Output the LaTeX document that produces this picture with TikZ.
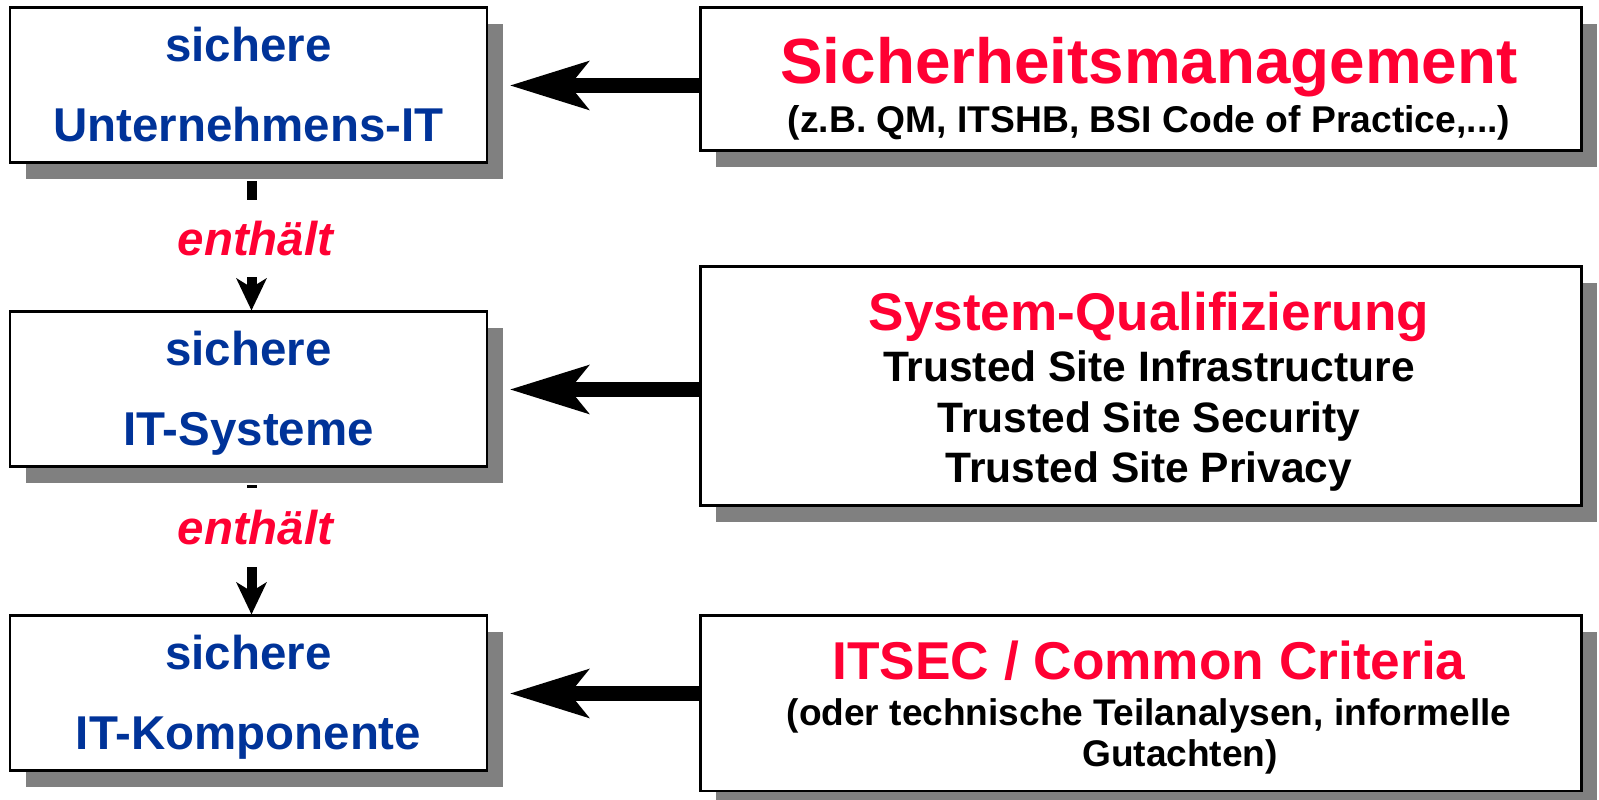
\documentclass[tikz,border=0pt]{standalone}
\usepackage{fontspec}
\setmainfont{Liberation Sans}
\usepackage{tikz}
\usetikzlibrary{arrows.meta,shadows}
\usepackage{xcolor}
\definecolor{itblue}{HTML}{003399}
\definecolor{itred}{HTML}{FF0033}
\definecolor{shadowgray}{HTML}{808080}
% Zeilenstrut: Hoehe, Tiefe
\newcommand{\lstrut}[2]{\rule[-#2]{0pt}{\dimexpr #1+#2\relax}}
% Zeile rechts, etwas nach rechts versetzt
\newcommand{\rstrut}[2]{\hspace*{0.34cm}\lstrut{#1}{#2}}

\begin{document}
\begin{tikzpicture}[
        itbox/.style={draw, line width=1.7pt, fill=white, inner sep=0pt, align=flush center, text width=9.54cm, minimum height=3.1cm, text=itblue, font=\fontsize{27}{27}\selectfont\bfseries, drop shadow={shadow xshift=0.32cm, shadow yshift=-0.32cm, fill=shadowgray, opacity=1}, execute at begin node=\offinterlineskip\frenchspacing},
        normbox/.style={itbox, text width=17.62cm, text=black},
        bigarrow/.style={-{Stealth[length=1.56cm, width=0.94cm, inset=0.36cm]}, line width=0.3cm, shorten >=0.42cm},
        contains/.style={-{Stealth[length=0.64cm, width=0.6cm, inset=0.18cm]}, line width=0.2cm, shorten <=0.34cm},
        relation/.style={fill=white, inner sep=0pt, xshift=0.08cm, text=itred, font=\fontsize{27}{27}\selectfont\bfseries\itshape}
    ]
    \useasboundingbox (0,0) rectangle (31.98,16);
    % linke Spalte
    \node[itbox] (unt) at (4.97,14.29) {\lstrut{1.08cm}{0.3cm}sichere\\ \lstrut{1.3cm}{0.42cm}Unternehmens-IT};
    \node[itbox] (sys) at (4.97,8.21) {\lstrut{1.08cm}{0.3cm}sichere\\ \lstrut{1.3cm}{0.42cm}IT-Systeme};
    \node[itbox] (komp) at (4.97,2.13) {\lstrut{1.08cm}{0.3cm}sichere\\ \lstrut{1.3cm}{0.42cm}IT-Komponente};
    % rechte Spalte
    \node[normbox, minimum height=2.86cm] (sm) at (22.81,14.41) {\rstrut{1.52cm}{0.3cm}{\color{itred}\fontsize{36.3}{36.3}\selectfont Sicherheitsmanagement}\\ \rstrut{0.68cm}{0.36cm}{\fontsize{21.2}{21.2}\selectfont (z.B. QM, ITSHB, BSI Code of Practice,...)}};
    \node[normbox, minimum height=4.78cm] (sq) at (22.81,8.27) {\rstrut{1.28cm}{0.3cm}{\color{itred}\fontsize{30.2}{30.2}\selectfont System-Qualifizierung}\\ \rstrut{0.72cm}{0.3cm}{\fontsize{24.2}{24.2}\selectfont Trusted Site Infrastructure}\\ \rstrut{0.72cm}{0.3cm}{\fontsize{24.2}{24.2}\selectfont Trusted Site Security}\\ \rstrut{0.7cm}{0.46cm}{\fontsize{24.2}{24.2}\selectfont Trusted Site Privacy}};
    \node[normbox, minimum height=3.5cm] (cc) at (22.81,1.93) {\rstrut{1.28cm}{0.3cm}{\color{itred}\fontsize{30.3}{30.3}\selectfont ITSEC / Common Criteria}\\ \rstrut{0.62cm}{0.25cm}{\fontsize{21.1}{21.1}\selectfont (oder technische Teilanalysen, informelle}\\ \hspace*{1.24cm}\rstrut{0.57cm}{0.48cm}{\fontsize{21.1}{21.1}\selectfont Gutachten)}};
    % Pfeile
    \draw[bigarrow] (sm.west |- unt.east) -- (unt.east);
    \draw[bigarrow] (sq.west |- sys.east) -- (sys.east);
    \draw[bigarrow] (cc.west |- komp.east) -- (komp.east);
    \draw[contains] ([xshift=0.06cm]unt.south) -- node[relation, minimum height=1.54cm, pos=0.507] (rel1) {enthält} ([xshift=0.06cm]sys.north);
    \draw[contains] ([xshift=0.06cm]sys.south) -- node[relation, minimum height=1.58cm, pos=0.406] (rel2) {enthält} ([xshift=0.06cm]komp.north);
\end{tikzpicture}
\end{document}
